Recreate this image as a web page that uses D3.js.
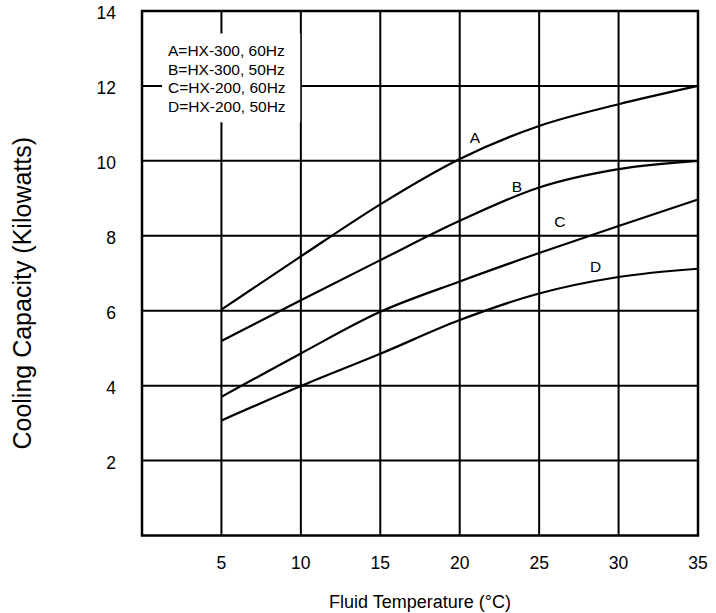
<!DOCTYPE html>
<html>
<head>
<meta charset="utf-8">
<script src="https://cdn.jsdelivr.net/npm/d3@7"></script>
<style>
  body { margin: 0; background: #fff; }
  svg { display: block; font-family: Arial, "Liberation Sans", sans-serif; }
</style>
</head>
<body>
<div id="chart"></div>
<script>
// datos
const temps = [5, 10, 15, 20, 25, 30, 35];
const serieA = [6.03, 7.45, 8.84, 10.05, 10.93, 11.51, 12.0];
const serieB = [5.19, 6.28, 7.35, 8.40, 9.29, 9.78, 10.0];
const serieC = [3.70, 4.86, 5.97, 6.78, 7.54, 8.26, 8.97];
const serieD = [3.07, 3.99, 4.85, 5.75, 6.46, 6.90, 7.12];
const etiquetas = ['A', 'B', 'C', 'D'];
const etiquetaPos = [[20.95, 10.63], [23.6, 9.32], [26.3, 8.39], [28.55, 7.17]]; // en unidades de datos
const leyenda = ['A=HX-300, 60Hz', 'B=HX-300, 50Hz', 'C=HX-200, 60Hz', 'D=HX-200, 50Hz'];
const xTicks = [5, 10, 15, 20, 25, 30, 35];
const yTicks = [2, 4, 6, 8, 10, 12, 14];

const W = 716, H = 613;
const m = { left: 142, right: 18, top: 11, bottom: 77.5 };

const svg = d3.select('#chart').append('svg')
    .attr('width', W)
    .attr('height', H);

const x = d3.scaleLinear().domain([0, 35]).range([m.left, W - m.right]);
const y = d3.scaleLinear().domain([0, 14]).range([H - m.bottom, m.top]);

// rejilla
const grid = svg.append('g').attr('stroke', '#000').attr('stroke-width', 2);
grid.selectAll('line.v')
    .data(xTicks.slice(0, -1))
    .enter().append('line')
    .attr('x1', d => x(d)).attr('x2', d => x(d))
    .attr('y1', y(0)).attr('y2', y(14));
grid.selectAll('line.h')
    .data(yTicks.slice(0, -1))
    .enter().append('line')
    .attr('x1', x(0)).attr('x2', x(35))
    .attr('y1', d => y(d)).attr('y2', d => y(d));

// caja de la leyenda (tapa la rejilla)
svg.append('rect')
    .attr('x', x(1.26)).attr('y', y(13.4))
    .attr('width', x(10) - x(1.26) - 0.6)
    .attr('height', y(11.03) - y(13.4))
    .attr('fill', '#fff');

// marco
svg.append('rect')
    .attr('x', x(0)).attr('y', y(14))
    .attr('width', x(35) - x(0))
    .attr('height', y(0) - y(14))
    .attr('fill', 'none')
    .attr('stroke', '#000')
    .attr('stroke-width', 2.5);

// curvas
const series = [serieA, serieB, serieC, serieD];
const line = d3.line()
    .x((d, i) => x(temps[i]))
    .y(d => y(d))
    .curve(d3.curveMonotoneX);

svg.append('g').selectAll('path')
    .data(series)
    .enter().append('path')
    .attr('d', line)
    .attr('fill', 'none')
    .attr('stroke', '#000')
    .attr('stroke-width', 2.2);

svg.append('g').selectAll('text')
    .data(etiquetas)
    .enter().append('text')
    .attr('x', (d, i) => x(etiquetaPos[i][0]))
    .attr('y', (d, i) => y(etiquetaPos[i][1]))
    .attr('text-anchor', 'middle')
    .attr('dy', '0.35em')
    .attr('font-size', 15.5)
    .text(d => d);

// leyenda
svg.append('g').selectAll('text')
    .data(leyenda)
    .enter().append('text')
    .attr('x', 168)
    .attr('y', (d, i) => 56 + i * 18.7)
    .attr('font-size', 15.5)
    .text(d => d);

// ejes
svg.append('g').selectAll('text')
    .data(xTicks)
    .enter().append('text')
    .attr('x', d => x(d))
    .attr('y', 569)
    .attr('text-anchor', 'middle')
    .attr('font-size', 17.5)
    .text(d => d);

svg.append('g').selectAll('text')
    .data(yTicks)
    .enter().append('text')
    .attr('x', 116)
    .attr('y', d => y(d) + 2)
    .attr('dy', '0.35em')
    .attr('text-anchor', 'end')
    .attr('font-size', 17.5)
    .text(d => d);

svg.append('text')
    .attr('x', (x(0) + x(35)) / 2)
    .attr('y', 608)
    .attr('text-anchor', 'middle')
    .attr('font-size', 18)
    .text('Fluid Temperature (°C)');

svg.append('text')
    .attr('transform', `translate(31, ${(y(0) + y(14)) / 2 + 20}) rotate(-90)`)
    .attr('text-anchor', 'middle')
    .attr('font-size', 25)
    .text('Cooling Capacity (Kilowatts)');
</script>
</body>
</html>
